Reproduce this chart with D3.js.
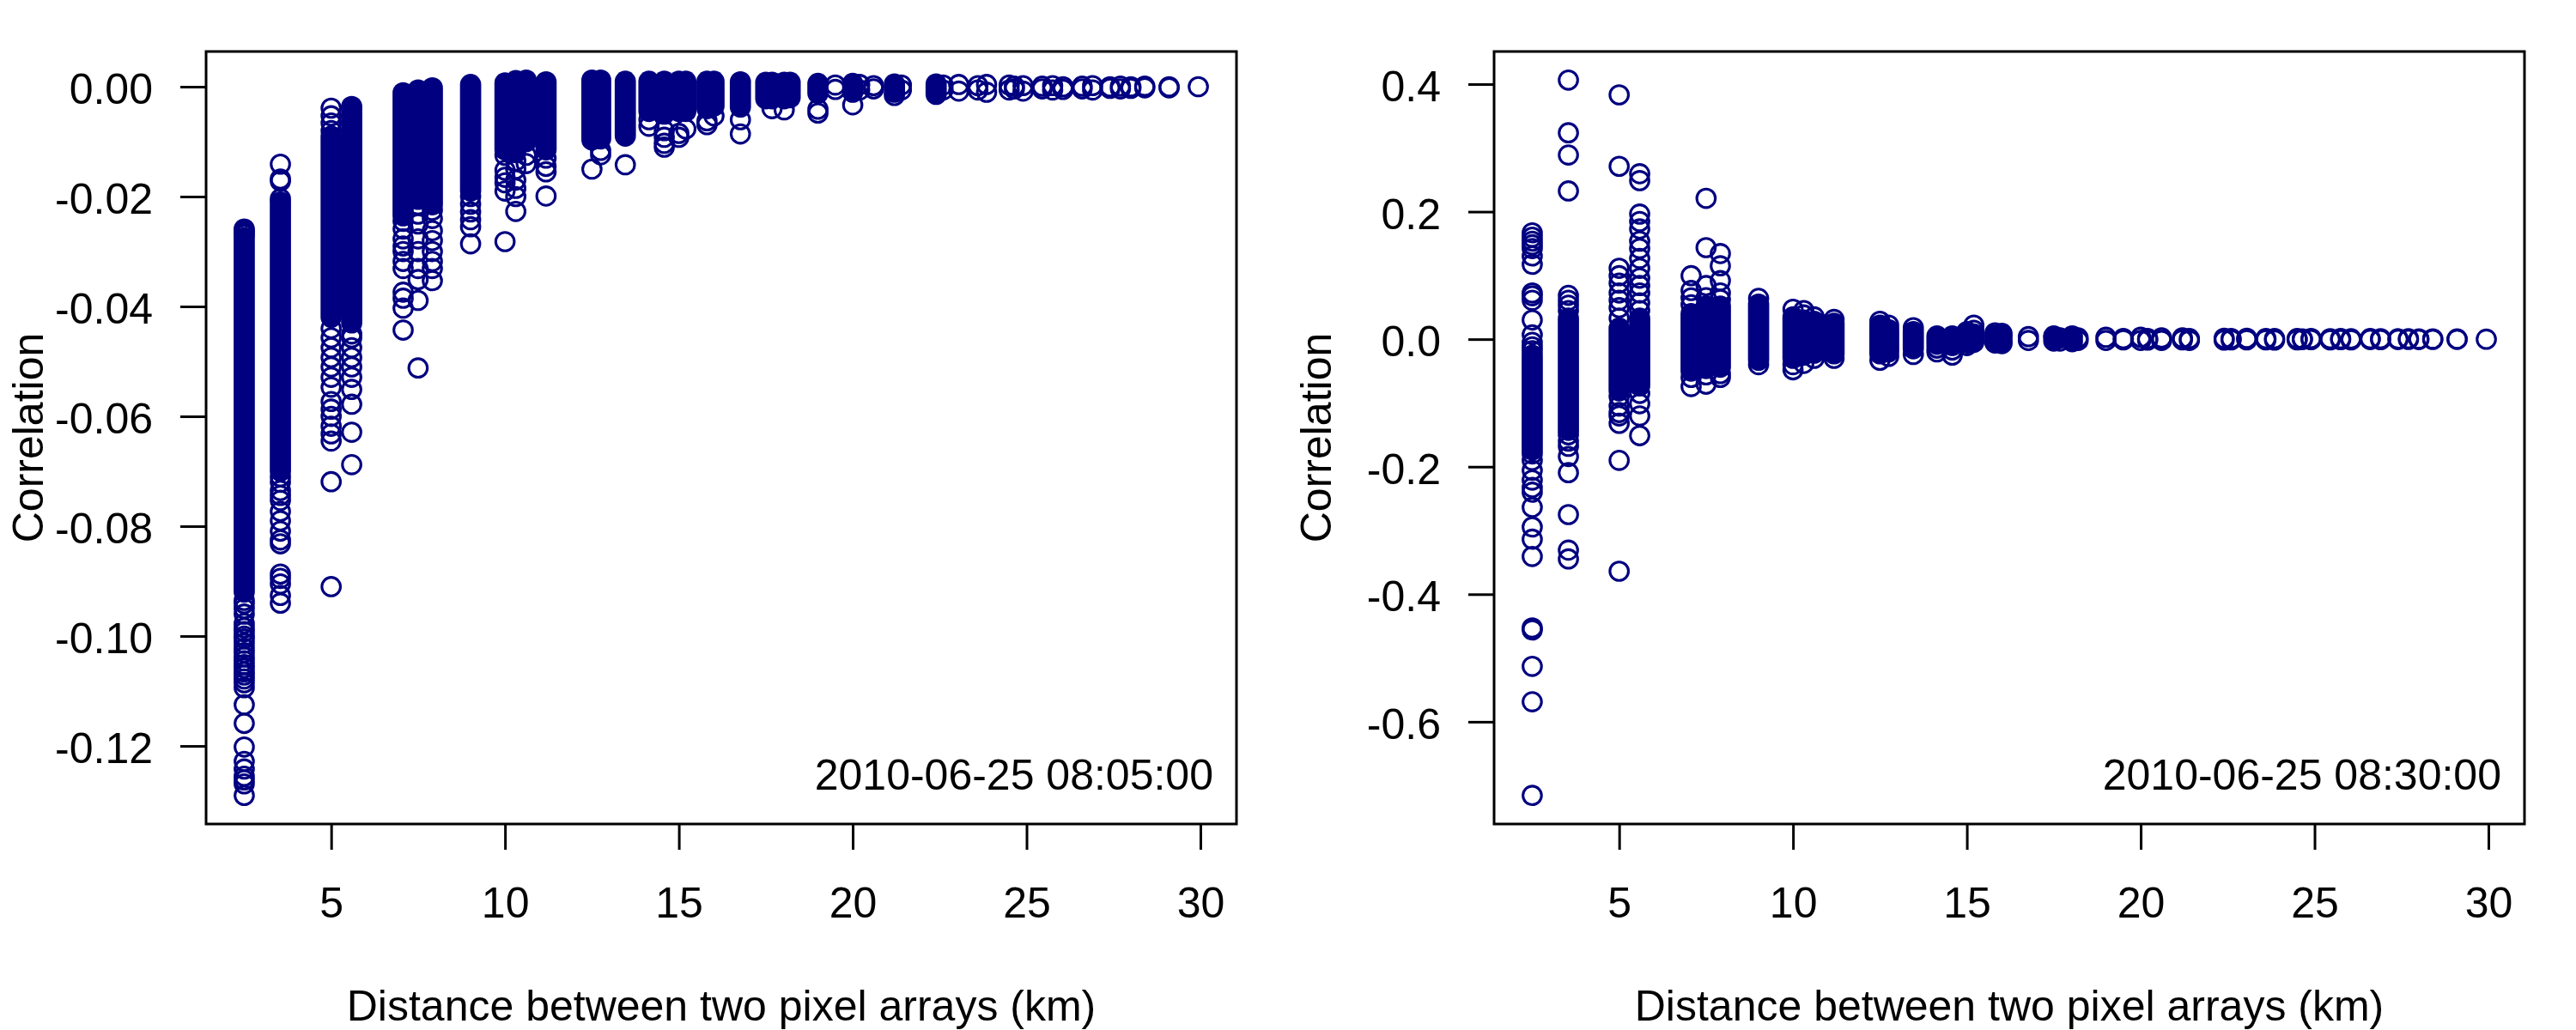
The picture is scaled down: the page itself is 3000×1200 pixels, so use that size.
<!DOCTYPE html>
<html>
<head>
<meta charset="utf-8">
<script src="https://cdn.jsdelivr.net/npm/d3@7"></script>
<style>
  body { margin: 0; background: #fff; }
  svg { display: block; }
</style>
</head>
<body>
<script>
// values (correlation vs distance)
var xTicks = [5, 10, 15, 20, 25, 30];
var yTicks0805 = [0, -0.02, -0.04, -0.06, -0.08, -0.1, -0.12];
var yTicks0830 = [0.4, 0.2, 0, -0.2, -0.4, -0.6];
var stamps = ["2010-06-25 08:05:00", "2010-06-25 08:30:00"];
var xTitle = "Distance between two pixel arrays (km)";
var yTitle = "Correlation";

// dense runs of overlapping circles: [distance, lowest, highest]
var bands0805 = [
  [2.5, -0.0920, -0.0275], [3.54, -0.0700, -0.0210], [5, -0.0420, -0.0090],
  [5.59, -0.0430, -0.0036], [7.07, -0.0235, -0.0011], [7.5, -0.0205, -0.0006],
  [7.91, -0.0215, -0.0002], [9.01, -0.0190, 0.0004], [10, -0.0115, 0.0007],
  [10.31, -0.0120, 0.0011], [10.61, -0.0100, 0.0012], [11.18, -0.0115, 0.0009],
  [12.5, -0.0097, 0.0012], [12.75, -0.0095, 0.0012], [13.46, -0.0090, 0.0010],
  [14.14, -0.0045, 0.0010], [14.58, -0.0050, 0.0010], [15, -0.0045, 0.0010],
  [15.2, -0.0045, 0.0010], [15.81, -0.0040, 0.0010], [16.01, -0.0035, 0.0010],
  [16.77, -0.0037, 0.0009], [17.5, -0.0022, 0.0008], [17.68, -0.0022, 0.0008],
  [18.03, -0.0022, 0.0008], [18.2, -0.0020, 0.0008], [19.0, -0.0012, 0.0006],
  [20.0, -0.0010, 0.0006], [21.2, -0.0010, 0.0005], [22.4, -0.0014, 0.0005]
];

// single visible circles: [distance, [correlations]]
var points0805 = [
  [2.5, [-0.0259, -0.0262, -0.0266, -0.0270, -0.0935, -0.0941, -0.0950, -0.0960, -0.0977,
         -0.0985, -0.0992, -0.1000, -0.1005, -0.1013, -0.1022, -0.1030, -0.1038, -0.1045,
         -0.1052, -0.1058, -0.1065, -0.1071, -0.1078, -0.1085, -0.1094, -0.1125, -0.1159,
         -0.1202, -0.1228, -0.1242, -0.1255, -0.1262, -0.1269, -0.1290]],
  [3.54, [-0.0141, -0.0168, -0.0172, -0.0204, -0.0710, -0.0720, -0.0735, -0.0744, -0.0753,
          -0.0773, -0.0790, -0.0809, -0.0825, -0.0832, -0.0887, -0.0895, -0.0905, -0.0926, -0.0940]],
  [5, [-0.0039, -0.0053, -0.0066, -0.0080, -0.0440, -0.0457, -0.0475, -0.0493, -0.0510,
       -0.0529, -0.0547, -0.0573, -0.0587, -0.0600, -0.0618, -0.0632, -0.0645, -0.0719, -0.0910]],
  [5.59, [-0.0450, -0.0457, -0.0475, -0.0493, -0.0510, -0.0529, -0.0551, -0.0578, -0.0629, -0.0688]],
  [7.07, [-0.0245, -0.0259, -0.0277, -0.0290, -0.0300, -0.0318, -0.0331, -0.0374, -0.0385, -0.0403, -0.0443]],
  [7.5, [-0.0215, -0.0232, -0.0250, -0.0277, -0.0300, -0.0331, -0.0351, -0.0389, -0.0512]],
  [7.91, [-0.0225, -0.0240, -0.0262, -0.0280, -0.0300, -0.0318, -0.0331, -0.0353]],
  [9.01, [-0.0200, -0.0214, -0.0228, -0.0242, -0.0255, -0.0286]],
  [10, [-0.0125, -0.0152, -0.0165, -0.0175, -0.0190, -0.0282]],
  [10.31, [-0.0135, -0.0150, -0.0170, -0.0185, -0.0200, -0.0227]],
  [10.61, [-0.0125, -0.0140]],
  [11.18, [-0.0130, -0.0145, -0.0155, -0.0199]],
  [12.5, [-0.0150]],
  [12.75, [-0.0116, -0.0124]],
  [13.46, [-0.0142]],
  [14.14, [-0.0060, -0.0072]],
  [14.58, [-0.0080, -0.0092, -0.0103, -0.0110]],
  [15, [-0.0085, -0.0092]],
  [15.2, [-0.0077]],
  [15.81, [-0.0062, -0.0069]],
  [16.01, [-0.0053]],
  [16.77, [-0.0060, -0.0086]],
  [17.68, [-0.0040]],
  [18.03, [-0.0042]],
  [19.0, [-0.0048, -0.0041]],
  [19.5, [0.0003, -0.0005]],
  [20.0, [-0.0033]],
  [20.2, [0.0004, -0.0006]],
  [20.6, [0.0002, -0.0004]],
  [21.2, [-0.0016]],
  [21.4, [0.0003, -0.0006]],
  [22.6, [0.0003, -0.0006]],
  [23.05, [0.0004, -0.0008]],
  [23.6, [0.0002, -0.0006]],
  [23.85, [0.0004, -0.0010]],
  [24.5, [0.0003, -0.0006]],
  [24.65, [0.0001, -0.0004]],
  [24.9, [0.0002, -0.0008]],
  [25.45, [0.0001, -0.0004]],
  [25.75, [0.0002, -0.0006]],
  [26.05, [0.0000, -0.0005]],
  [26.6, [0.0001, -0.0004]],
  [26.9, [0.0002, -0.0006]],
  [27.4, [0.0000, -0.0003]],
  [27.7, [0.0001, -0.0004]],
  [28.0, [0.0000, -0.0003]],
  [28.4, [0.0001, -0.0002]],
  [29.1, [0.0000, -0.0002]],
  [29.94, [0.0000]]
];

var bands0830 = [
  [2.5, -0.1737, -0.0250], [3.54, -0.1430, 0.0330], [5, -0.0810, 0.0175],
  [5.59, -0.0732, 0.0330], [7.07, -0.0500, 0.0400], [7.5, -0.0460, 0.0520],
  [7.91, -0.0440, 0.0520], [9.01, -0.0330, 0.0550], [10, -0.0300, 0.0350],
  [10.31, -0.0250, 0.0300], [10.61, -0.0220, 0.0280], [11.18, -0.0230, 0.0250],
  [12.5, -0.0230, 0.0220], [12.75, -0.0200, 0.0150], [13.46, -0.0150, 0.0120],
  [14.14, -0.0080, 0.0050], [14.58, -0.0100, 0.0050], [15, -0.0060, 0.0080],
  [15.2, -0.0050, 0.0080], [15.81, -0.0040, 0.0060], [16.01, -0.0040, 0.0060],
  [17.5, -0.0030, 0.0030], [18.03, -0.0030, 0.0030]
];

var points0830 = [
  [2.5, [0.1668, 0.1600, 0.1537, 0.1480, 0.1421, 0.1305, 0.1174, 0.0725, 0.0680, 0.0610,
         0.0301, 0.0069, -0.0050, -0.0120, -0.0180, -0.1800, -0.1900, -0.2056, -0.2210,
         -0.2326, -0.2400, -0.2635, -0.2945, -0.3137, -0.3408, -0.4528, -0.4560, -0.5131,
         -0.5687, -0.7155]],
  [3.54, [0.4063, 0.3237, 0.2888, 0.2325, 0.0687, 0.0610, 0.0533, 0.0450, -0.1500, -0.1600,
          -0.1680, -0.1840, -0.2094, -0.2751, -0.3308, -0.3447]],
  [5, [0.3832, 0.2711, 0.1112, 0.0996, 0.0880, 0.0725, 0.0610, 0.0494, 0.0330, -0.0900,
       -0.1049, -0.1150, -0.1204, -0.1320, -0.1901, -0.3639]],
  [5.59, [0.2595, 0.2487, 0.1962, 0.1846, 0.1730, 0.1537, 0.1421, 0.1266, 0.1112, 0.0957,
          0.0841, 0.0725, 0.0570, 0.0450, -0.0850, -0.1012, -0.1204, -0.1513]],
  [7.07, [0.0996, 0.0764, 0.0648, 0.0540, -0.0600, -0.0743]],
  [7.5, [0.2209, 0.1436, 0.0841, 0.0650, -0.0560, -0.0705]],
  [7.91, [0.1343, 0.1151, 0.0919, 0.0725, 0.0620, -0.0540, -0.0600]],
  [9.01, [0.0640, -0.0400]],
  [10, [0.0470, -0.0400, -0.0480]],
  [10.31, [0.0450, 0.0380, -0.0380]],
  [10.61, [0.0350, -0.0300]],
  [11.18, [0.0310, -0.0300]],
  [12.5, [0.0280, -0.0330]],
  [12.75, [0.0220, -0.0270]],
  [13.46, [0.0180, -0.0240]],
  [14.14, [-0.0140, -0.0200]],
  [14.58, [-0.0170, -0.0250]],
  [15, [0.0120, -0.0100]],
  [15.2, [0.0140, 0.0220]],
  [15.81, [0.0100, -0.0060]],
  [16.01, [0.0090, -0.0070]],
  [16.77, [0.0040, -0.0020]],
  [17.5, [0.0050]],
  [17.68, [0.0020, -0.0030]],
  [18.03, [0.0050, -0.0040]],
  [18.2, [0.0020, -0.0020]],
  [19.0, [0.0030, -0.0020]],
  [19.5, [0.0010, -0.0010]],
  [20.0, [0.0030, -0.0020]],
  [20.2, [0.0010, -0.0015]],
  [20.6, [0.0020, -0.0020]],
  [21.2, [0.0020, -0.0010]],
  [21.4, [0.0010, -0.0020]],
  [22.4, [0.0015, -0.0015]],
  [22.6, [0.0010, -0.0010]],
  [23.05, [0.0015, -0.0010]],
  [23.6, [0.0010, -0.0010]],
  [23.85, [0.0010, -0.0015]],
  [24.5, [0.0010, -0.0010]],
  [24.65, [0.0005, -0.0005]],
  [24.9, [0.0012, -0.0008]],
  [25.45, [0.0008, -0.0010]],
  [25.75, [0.0010, -0.0008]],
  [26.05, [0.0006, -0.0010]],
  [26.6, [0.0010, -0.0006]],
  [26.9, [0.0008, -0.0008]],
  [27.4, [0.0006, -0.0006]],
  [27.7, [0.0008, -0.0004]],
  [28.0, [0.0004, -0.0006]],
  [28.4, [0.0004, -0.0004]],
  [29.1, [0.0003, -0.0003]],
  [29.94, [0.0000]]
];

var W = 3000, H = 1200;
var panelW = 1500;
var box = { left: 240, right: 1440, top: 60, bottom: 960 };
var col = "#000080";
var font = "'Liberation Sans', Arial, Helvetica, sans-serif";
var fontSize = 50;
var radius = 10.8, ring = 3.1;
var outer = radius + ring / 2;

// R pads the data range by 4% on each side
function rRange(ext) {
  var s = ext[1] - ext[0];
  return [ext[0] - 0.04 * s, ext[1] + 0.04 * s];
}

function flatten(points) {
  var out = [];
  points.forEach(function(p) {
    p[1].forEach(function(v) { out.push({ x: p[0], y: v }); });
  });
  return out;
}

var svg = d3.select("body").append("svg")
  .attr("width", W)
  .attr("height", H)
  .attr("viewBox", "0 0 " + W + " " + H);

function drawPanel(i, bands, points, yTicks, digits, stamp) {
  var g = svg.append("g").attr("transform", "translate(" + (i * panelW) + ",0)");
  var pts = flatten(points);

  var xs = pts.map(function(d) { return d.x; }).concat(bands.map(function(b) { return b[0]; }));
  var ys = pts.map(function(d) { return d.y; })
    .concat(bands.map(function(b) { return b[1]; }))
    .concat(bands.map(function(b) { return b[2]; }));

  var x = d3.scaleLinear().domain(rRange(d3.extent(xs))).range([box.left, box.right]);
  var y = d3.scaleLinear().domain(rRange(d3.extent(ys))).range([box.bottom, box.top]);

  var fmt = d3.format("." + digits + "f");
  var label = function(d) { return fmt(d).replace("\u2212", "-"); };

  // solid runs where the circles overlap completely
  g.append("g").selectAll("rect")
    .data(bands)
    .enter().append("rect")
    .attr("x", function(b) { return x(b[0]) - outer; })
    .attr("y", function(b) { return y(b[2]) - outer; })
    .attr("width", outer * 2)
    .attr("height", function(b) { return y(b[1]) - y(b[2]) + outer * 2; })
    .attr("rx", outer)
    .attr("fill", col);

  g.append("g").selectAll("circle")
    .data(pts)
    .enter().append("circle")
    .attr("cx", function(d) { return x(d.x); })
    .attr("cy", function(d) { return y(d.y); })
    .attr("r", radius)
    .attr("fill", "none")
    .attr("stroke", col)
    .attr("stroke-width", ring);

  var xAxis = g.append("g")
    .attr("transform", "translate(0," + box.bottom + ")")
    .call(d3.axisBottom(x).tickValues(xTicks).tickSize(30).tickPadding(43).tickFormat(d3.format("d")));
  var yAxis = g.append("g")
    .attr("transform", "translate(" + box.left + ",0)")
    .call(d3.axisLeft(y).tickValues(yTicks).tickSize(30).tickPadding(32).tickFormat(label));

  [xAxis, yAxis].forEach(function(a) {
    a.select(".domain").remove();
    a.attr("font-family", font).attr("font-size", fontSize);
    a.selectAll("line").attr("stroke", "#000").attr("stroke-width", 3);
    a.selectAll("text").attr("fill", "#000");
  });
  yAxis.selectAll("text").attr("dy", "0.39em");

  g.append("rect")
    .attr("x", box.left)
    .attr("y", box.top)
    .attr("width", box.right - box.left)
    .attr("height", box.bottom - box.top)
    .attr("fill", "none")
    .attr("stroke", "#000")
    .attr("stroke-width", 3);

  g.append("text")
    .attr("x", 1413)
    .attr("y", 920)
    .attr("text-anchor", "end")
    .attr("font-family", font)
    .attr("font-size", fontSize)
    .text(stamp);

  g.append("text")
    .attr("x", (box.left + box.right) / 2)
    .attr("y", 1189)
    .attr("text-anchor", "middle")
    .attr("font-family", font)
    .attr("font-size", fontSize)
    .text(xTitle);

  g.append("text")
    .attr("transform", "translate(50," + ((box.top + box.bottom) / 2) + ") rotate(-90)")
    .attr("text-anchor", "middle")
    .attr("font-family", font)
    .attr("font-size", fontSize)
    .text(yTitle);
}

drawPanel(0, bands0805, points0805, yTicks0805, 2, stamps[0]);
drawPanel(1, bands0830, points0830, yTicks0830, 1, stamps[1]);
</script>
</body>
</html>
